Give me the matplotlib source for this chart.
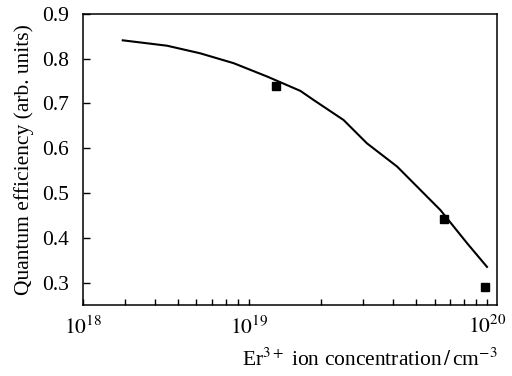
import numpy as np
import matplotlib
matplotlib.use('Agg')
import matplotlib.pyplot as plt
from matplotlib.ticker import FixedLocator, FixedFormatter, NullFormatter

# Fitted curve
curve_x = [2.94e18, 4.51e18, 6.22e18, 8.59e18, 1.19e19, 1.64e19, 1.86e19,
           2.49e19, 3.12e19, 4.18e19, 5.23e19, 6.35e19, 8.22e19, 9.97e19]
curve_y = [0.841, 0.829, 0.812, 0.790, 0.760, 0.728, 0.708,
           0.663, 0.611, 0.559, 0.507, 0.462, 0.388, 0.335]

# Measured points
meas_x = [1.30e19, 6.55e19, 9.75e19]
meas_y = [0.740, 0.442, 0.290]

major_ticks = [2e18, 1e19, 1e20]
major_labels = [r'$10^{18}$', r'$10^{19}$', r'$10^{20}$']
minor_ticks = [k * 1e18 for k in range(3, 10)] + [k * 1e19 for k in range(2, 10)]

plt.rcParams['font.family'] = ['Liberation Serif', 'DejaVu Serif']
plt.rcParams['mathtext.fontset'] = 'stix'
plt.rcParams['font.size'] = 15.5

fig = plt.figure(figsize=(5.12, 3.76), dpi=100)
ax = fig.add_axes([0.162, 0.189, 0.809, 0.774])

ax.plot(curve_x, curve_y, color='black', linewidth=1.5)
ax.plot(meas_x, meas_y, linestyle='none', marker='s', color='black', markersize=5.5)

ax.set_xscale('log')
ax.set_xlim(2e18, 1.1e20)
ax.set_ylim(0.25, 0.9)
ax.xaxis.set_major_locator(FixedLocator(major_ticks))
ax.xaxis.set_major_formatter(FixedFormatter(major_labels))
ax.xaxis.set_minor_locator(FixedLocator(minor_ticks))
ax.xaxis.set_minor_formatter(NullFormatter())
ax.set_yticks([0.3, 0.4, 0.5, 0.6, 0.7, 0.8, 0.9])
ax.set_yticklabels(['0.3', '0.4', '0.5', '0.6', '0.7', '0.8', '0.9'])

ax.tick_params(axis='x', which='both', direction='in', length=4, width=1, pad=8, top=False)
ax.tick_params(axis='y', direction='in', length=5, width=1, pad=10, right=False)
for s in ax.spines.values():
    s.set_linewidth(1.1)

ax.set_ylabel('Quantum efficiency (arb. units)', labelpad=6)
ax.set_xlabel(r'Er$^{3+}$ ion concentration$\,/\,$cm$^{-3}$', loc='right', labelpad=7)

fig.savefig('out.png', dpi=100)
